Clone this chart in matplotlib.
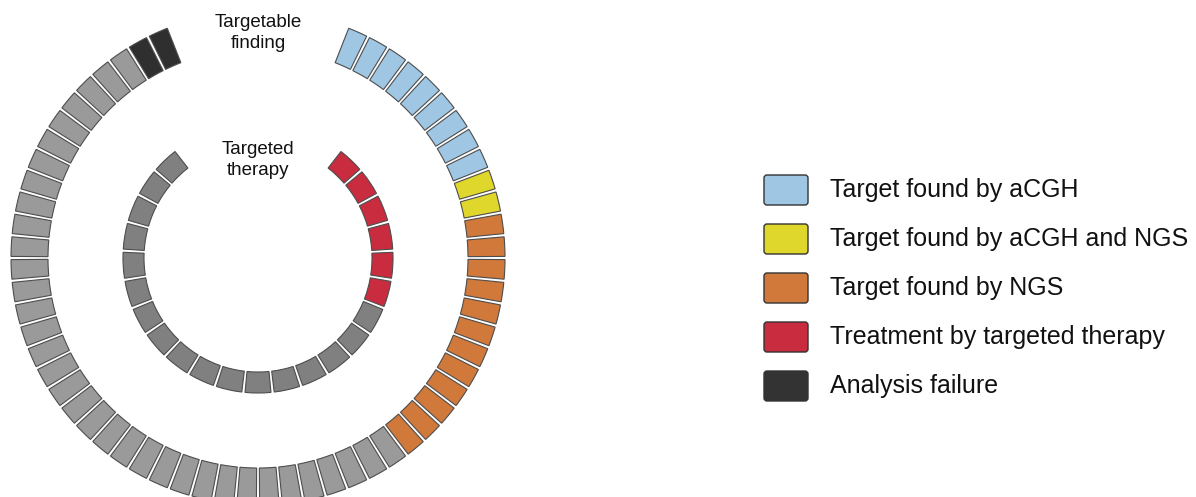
import numpy as np
import matplotlib
matplotlib.use("Agg")
import matplotlib.pyplot as plt
from matplotlib.patches import FancyBboxPatch

# ---------------------------------------------------------------
# DATA
# ---------------------------------------------------------------
# Outer ring: every patient, clockwise from the top gap
outer_groups = ["aCGH", "aCGH and NGS", "NGS", "No target", "Analysis failure"]
outer_counts = [9, 2, 12, 35, 2]
outer_colors = ["#9fc7e3", "#e0d72c", "#d0793b", "#9a9a9a", "#2f2f2f"]

# Inner ring: patients with a targetable finding
inner_groups = ["Targeted therapy", "No targeted therapy"]
inner_counts = [6, 17]
inner_colors = ["#c92b3f", "#808080"]

legend_labels = ["Target found by aCGH", "Target found by aCGH and NGS",
                 "Target found by NGS", "Treatment by targeted therapy",
                 "Analysis failure"]
legend_colors = ["#9fc7e3", "#e0d72c", "#d0793b", "#c92b3f", "#333333"]

# ---------------------------------------------------------------
# LAYOUT
# ---------------------------------------------------------------
W, H = 1196, 497
CX, CY = 258, 258          # ring centre, pixels from top-left
R_LIM = 250

OUTER_SLOTS, OUTER_GAP = 68, 8
INNER_SLOTS, INNER_GAP = 29, 6
OUTER_R0, OUTER_DR = 210, 37
INNER_R0, INNER_DR = 114, 21
EDGE = "#4d4d4d"

plt.rcParams["font.family"] = ["Liberation Sans", "DejaVu Sans"]

fig = plt.figure(figsize=(W / 100, H / 100), dpi=100)
ax = fig.add_axes([(CX - R_LIM) / W, (H - CY - R_LIM) / H, 2 * R_LIM / W, 2 * R_LIM / H],
                  projection="polar")
ax.set_theta_zero_location("N")
ax.set_theta_direction(-1)
ax.set_ylim(0, R_LIM)
ax.axis("off")


def draw_ring(counts, colors, n_slots, n_gap, r0, dr, fill):
    step = 2 * np.pi / n_slots
    cols = np.repeat(colors, counts)
    idx = np.arange(len(cols))
    theta = (n_gap / 2 + 0.5 + idx) * step
    ax.bar(theta, dr, width=step * fill, bottom=r0, color=cols,
           edgecolor=EDGE, linewidth=0.8, align="center")


draw_ring(outer_counts, outer_colors, OUTER_SLOTS, OUTER_GAP, OUTER_R0, OUTER_DR, 0.86)
draw_ring(inner_counts, inner_colors, INNER_SLOTS, INNER_GAP, INNER_R0, INNER_DR, 0.89)

ax.text(0, 225, "Targetable\nfinding", ha="center", va="center",
        fontsize=13.5, color="#111111", linespacing=1.3)
ax.text(0, 98, "Targeted\ntherapy", ha="center", va="center",
        fontsize=13.5, color="#111111", linespacing=1.3)

# ---------------------------------------------------------------
# LEGEND
# ---------------------------------------------------------------
lax = fig.add_axes([0, 0, 1, 1])
lax.set_xlim(0, W)
lax.set_ylim(H, 0)
lax.axis("off")

for i, (lab, col) in enumerate(zip(legend_labels, legend_colors)):
    yc = 190 + i * 49
    lax.add_patch(FancyBboxPatch((764, yc - 15), 44, 30,
                                 boxstyle="round,pad=0,rounding_size=3",
                                 facecolor=col, edgecolor="#333333", linewidth=1.0))
    lax.text(830, yc, lab, ha="left", va="center", fontsize=18, color="#111111")

fig.savefig("out.png", dpi=100)
